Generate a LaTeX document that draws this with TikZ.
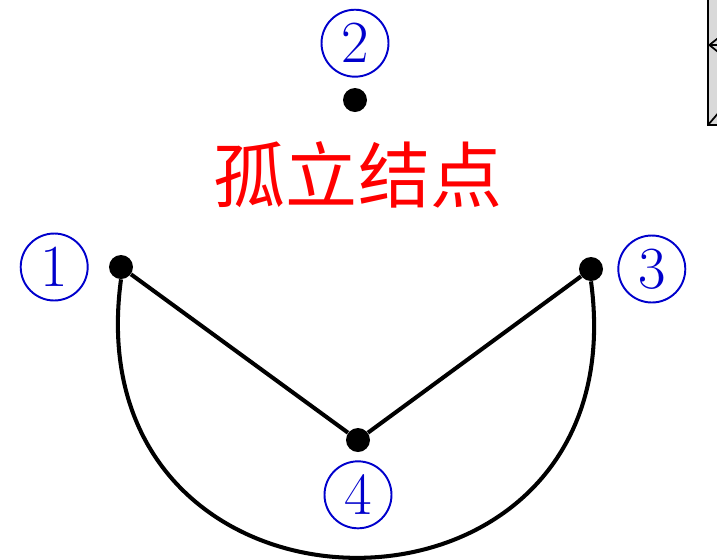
\documentclass[tikz,border=0pt]{standalone}
\usepackage{fontspec}
\newfontfamily\cjk{Noto Sans CJK SC}
\usepackage{xcolor}
\usetikzlibrary{arrows.meta,positioning}
\definecolor{numblue}{HTML}{0000CC}

\begin{document}
\begin{tikzpicture}[x=0.02cm, y=-0.02cm, node distance=3mm,
      vertex/.style={circle, fill=black, inner sep=0pt, minimum size=4.8mm},
      num/.style={circle, draw=numblue, text=numblue, line width=1.1pt, inner sep=0pt,
        minimum size=13.4mm, font=\fontsize{34}{34}\selectfont},
      edge/.style={line width=2.3pt},
      >={Straight Barb[length=2.5mm, width=4mm]}]
    \useasboundingbox (0,0) rectangle (717,559);
    \node[vertex] (v1) at (121,267) {};
    \node[vertex] (v2) at (355,100) {};
    \node[vertex] (v3) at (591,269) {};
    \node[vertex] (v4) at (358,440) {};
    \node[num, left=4mm of v1] (n1) {1};
    \node[num, above=2mm of v2] (n2) {2};
    \node[num, right=2.8mm of v3] (n3) {3};
    \node[num, below=1.6mm of v4] (n4) {4};
    \node[text=red, font=\cjk\fontsize{41}{41}\selectfont] (iso) at (358,175) {孤立结点};
    \draw[edge] (v1) -- (v4); \draw[edge] (v4) -- (v3);
    \draw[edge] (v1.south) .. controls +(-50,370) and +(50,370) .. (v3.south);
    % cut-off box at the right edge
    \draw[fill=gray!30, line width=1pt] (708,-10) rectangle (780,125);
    \draw[->, line width=1pt] (760,45) -- (708,45);
    \draw[line width=1pt] (708,125) -- (720,111);
  \end{tikzpicture}
\end{document}
